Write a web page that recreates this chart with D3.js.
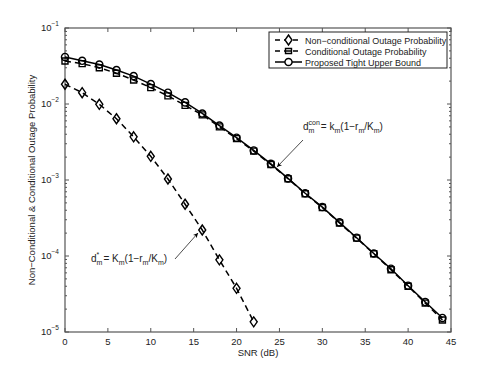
<!DOCTYPE html>
<html>
<head>
<meta charset="utf-8">
<script src="https://cdn.jsdelivr.net/npm/d3@7"></script>
<style>
  body { margin: 0; background: #fff; }
  svg { font-family: "Liberation Sans", Arial, sans-serif; }
</style>
</head>
<body>
<div id="chart"></div>
<script>
// SNR values (dB)
const snr = [0, 2, 4, 6, 8, 10, 12, 14, 16, 18, 20, 22, 24, 26, 28, 30, 32, 34, 36, 38, 40, 42, 44];

// series values
const nonCond = [0.0182, 0.0141, 0.0099, 0.0064, 0.0037, 0.00205, 0.00103, 0.00048, 0.00022, 8.9e-5, 3.76e-5, 1.36e-5];
const cond = [0.0368, 0.034, 0.030, 0.0254, 0.0207, 0.0164, 0.0128, 0.0096, 0.0072, 0.0050, 0.0035, 0.0024,
  0.0016, 0.00104, 6.6e-4, 4.35e-4, 2.72e-4, 1.72e-4, 1.07e-4, 6.6e-5, 4.0e-5, 2.4e-5, 1.44e-5];
const bound = [0.0416, 0.037, 0.033, 0.028, 0.0233, 0.0183, 0.0141, 0.0105, 0.0075, 0.0052, 0.0036, 0.00245,
  0.00163, 0.00105, 6.7e-4, 4.4e-4, 2.77e-4, 1.74e-4, 1.08e-4, 6.8e-5, 4.07e-5, 2.48e-5, 1.53e-5];

const xTicks = [0, 5, 10, 15, 20, 25, 30, 35, 40, 45];
const yTickExp = [-1, -2, -3, -4, -5];
const legendLabels = ["Non\u2212conditional Outage Probability", "Conditional Outage Probability", "Proposed Tight Upper Bound"];

const W = 498, H = 374;
const margin = { top: 28, right: 47, bottom: 42, left: 65 };
const width = W - margin.left - margin.right;
const height = H - margin.top - margin.bottom;

const svg = d3.select("#chart").append("svg")
  .attr("width", W).attr("height", H);

const g = svg.append("g")
  .attr("transform", `translate(${margin.left},${margin.top})`);

const x = d3.scaleLinear().domain([0, 45]).range([0, width]);
const y = d3.scaleLog().domain([1e-5, 1e-1]).range([height, 0]);

const axisCol = "#555";

// frame
g.append("rect")
  .attr("width", width).attr("height", height)
  .attr("fill", "none").attr("stroke", axisCol).attr("stroke-width", 1.2);

// x ticks (bottom & top, inward)
xTicks.forEach(function (t) {
  g.append("line").attr("x1", x(t)).attr("x2", x(t))
    .attr("y1", height).attr("y2", height - 4).attr("stroke", axisCol);
  g.append("line").attr("x1", x(t)).attr("x2", x(t))
    .attr("y1", 0).attr("y2", 4).attr("stroke", axisCol);
  g.append("text").attr("x", x(t)).attr("y", height + 13)
    .attr("text-anchor", "middle").attr("font-size", 9.5).attr("fill", "#222")
    .text(t);
});

// y ticks (major + minor on both sides)
yTickExp.forEach(function (e) {
  for (let m = 1; m <= 9; m++) {
    const v = m * Math.pow(10, e);
    if (v > 0.1 + 1e-12) continue;
    const len = m === 1 ? 4 : 2;
    g.append("line").attr("x1", 0).attr("x2", len)
      .attr("y1", y(v)).attr("y2", y(v)).attr("stroke", axisCol);
    g.append("line").attr("x1", width).attr("x2", width - len)
      .attr("y1", y(v)).attr("y2", y(v)).attr("stroke", axisCol);
  }
  const lab = g.append("text").attr("x", -6).attr("y", y(Math.pow(10, e)) + 3)
    .attr("text-anchor", "end").attr("font-size", 9.5).attr("fill", "#222");
  lab.append("tspan").text("10");
  lab.append("tspan").attr("dy", -5).attr("font-size", 6.5).text("\u2212" + Math.abs(e));
});

// axis labels
g.append("text").attr("x", width / 2).attr("y", height + 24)
  .attr("text-anchor", "middle").attr("font-size", 9.5).attr("fill", "#222")
  .text("SNR (dB)");
g.append("text")
  .attr("transform", `translate(${-30},${height / 2}) rotate(-90)`)
  .attr("text-anchor", "middle").attr("font-size", 9.5).attr("fill", "#222")
  .text("Non\u2212Conditional & Conditional Outage Probability");

const line = d3.line().x((d) => x(d[0])).y((d) => y(d[1]));

function drawSeries(vals, dash, marker) {
  const pts = vals.map((v, i) => [snr[i], v]);
  g.append("path").datum(pts).attr("d", line)
    .attr("fill", "none").attr("stroke", "#000").attr("stroke-width", 1.5)
    .attr("stroke-dasharray", dash);
  g.selectAll(null).data(pts).enter().append("path")
    .attr("transform", (d) => `translate(${x(d[0])},${y(d[1])})`)
    .attr("d", marker)
    .attr("fill", "none").attr("stroke", "#000").attr("stroke-width", 1.4);
}

const diamond = "M0,-5L3.5,0L0,5L-3.5,0Z";
const square = "M-3,-3H3V3H-3Z";
const circle = d3.symbol().type(d3.symbolCircle).size(40)();

drawSeries(nonCond, "6,4", diamond);
drawSeries(cond, "6,4", square);
drawSeries(bound, null, circle);

// legend
const lg = g.append("g").attr("transform", `translate(${204},${4})`);
lg.append("rect").attr("width", 178).attr("height", 36)
  .attr("fill", "#fff").attr("stroke", "#222").attr("stroke-width", 1);
const lMarkers = [diamond, "M-3,-2.5H3V2.5H-3ZM-3,0H3", circle];
const lDash = ["5,4", "5,4", null];
legendLabels.forEach(function (lbl, i) {
  const yy = 8 + i * 11;
  lg.append("line").attr("x1", 6).attr("x2", 33).attr("y1", yy).attr("y2", yy)
    .attr("stroke", "#000").attr("stroke-width", 1.5).attr("stroke-dasharray", lDash[i]);
  lg.append("path").attr("transform", `translate(19.5,${yy})`).attr("d", lMarkers[i])
    .attr("fill", "#fff").attr("stroke", "#000").attr("stroke-width", 1.4);
  lg.append("text").attr("x", 36).attr("y", yy + 3.5)
    .attr("font-size", 9).attr("fill", "#222").text(lbl);
});

// annotations
svg.append("defs").append("marker")
  .attr("id", "arr").attr("viewBox", "0 0 10 10").attr("refX", 10).attr("refY", 5)
  .attr("markerWidth", 7).attr("markerHeight", 7).attr("orient", "auto")
  .append("path").attr("d", "M0,0L10,5L0,10L3,5Z").attr("fill", "#000");

// write a formula piece by piece, measuring each part
function formula(px, py, sup, big) {
  const fg = svg.append("g").attr("fill", "#222");
  let cx = px;
  function put(txt, size, dy) {
    const t = fg.append("text").attr("x", cx).attr("y", py + dy)
      .attr("font-size", size).text(txt);
    return t.node().getComputedTextLength();
  }
  cx += put("d", 10, 0);
  const wSup = put(sup, 7, -5);
  const wSub = put("m", 7, 3);
  cx += Math.max(wSup, wSub) + 1;
  cx += put("= " + big, 10, 0);
  cx += put("m", 7, 3);
  cx += put("(1\u2212r", 10, 0);
  cx += put("m", 7, 3);
  cx += put("/K", 10, 0);
  cx += put("m", 7, 3);
  put(")", 10, 0);
}

formula(303, 130, "con", "k");
svg.append("line").attr("x1", 303).attr("y1", 140).attr("x2", 277).attr("y2", 167)
  .attr("stroke", "#000").attr("stroke-width", 0.7).attr("marker-end", "url(#arr)");

formula(91, 262, "*", "K");
svg.append("line").attr("x1", 175).attr("y1", 259).attr("x2", 198).attr("y2", 233)
  .attr("stroke", "#000").attr("stroke-width", 0.7).attr("marker-end", "url(#arr)");
</script>
</body>
</html>
